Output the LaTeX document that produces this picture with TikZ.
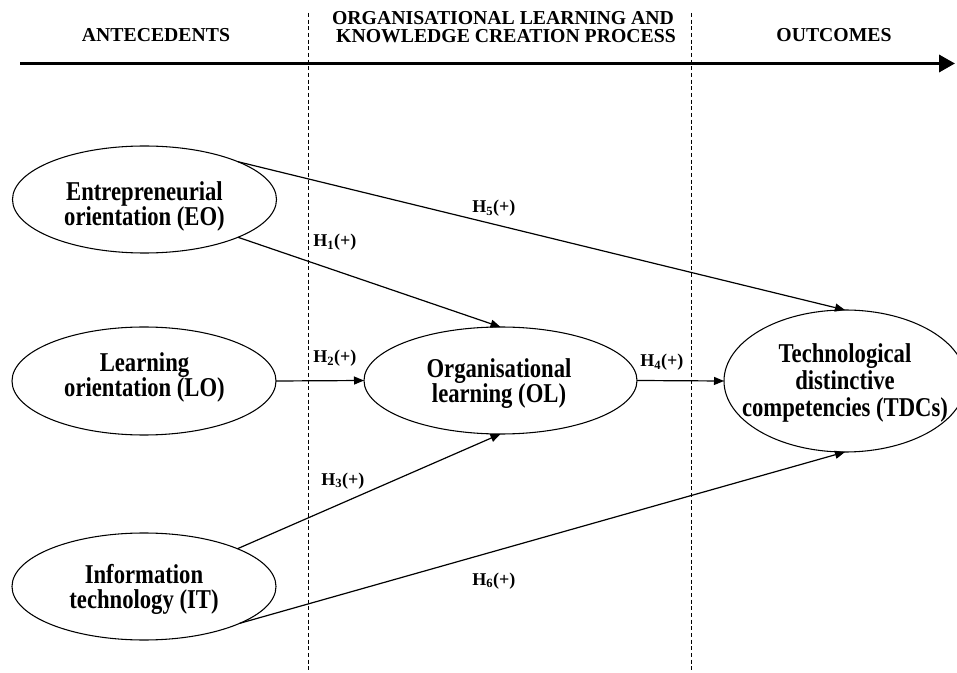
\documentclass[tikz,border=0pt]{standalone}
\usepackage{fontspec}
\setmainfont{Liberation Serif}
\usetikzlibrary{shapes.geometric,arrows.meta}
\newcommand\vstr[1]{\scalebox{1}[1.2]{#1}}
\begin{document}
\begin{tikzpicture}[x=0.75pt,y=-0.75pt,
  ell/.style={draw, ellipse, line width=0.8pt, inner sep=0pt, outer sep=0pt},
  etxt/.style={font=\fontsize{17}{17}\selectfont\bfseries, inner sep=0pt, anchor=base},
  htxt/.style={font=\fontsize{14.8}{15}\selectfont\bfseries, inner sep=0pt, anchor=base},
  hyp/.style={font=\fontsize{13.5}{14}\selectfont\bfseries, inner sep=0pt, anchor=base west},
  link/.style={line width=0.9pt, -{Triangle[length=7.5pt,width=6pt]}},
  divider/.style={line width=0.7pt, dash pattern=on 3pt off 2pt},
  timeline/.style={line width=2.6pt, -{Triangle[length=12pt,width=12.75pt]}},
]
\useasboundingbox (0,0) rectangle (957,673);

% header
\node[htxt] (hA) at (156,42) {ANTECEDENTS};
\node[htxt] (hB1) at (503,24.5) {ORGANISATIONAL LEARNING AND};
\node[htxt] (hB2) at (506,42.5) {KNOWLEDGE CREATION PROCESS};
\node[htxt] (hC) at (834,42) {OUTCOMES};
\coordinate (tl0) at (20,63.5);
\coordinate (tl1) at (955,63.5);
\draw[timeline] (tl0) -- (tl1);

% dividers
\coordinate (d1t) at (308,13);
\coordinate (d1b) at (308,673);
\coordinate (d2t) at (691,13);
\coordinate (d2b) at (691,673);
\draw[divider] (d1t) -- (d1b);
\draw[divider] (d2t) -- (d2b);

% ellipses
\node[ell, minimum width=198pt, minimum height=80.25pt] (EO) at (144.5,199.5) {};
\node[ell, minimum width=198pt, minimum height=81pt] (LO) at (144,381) {};
\node[ell, minimum width=198pt, minimum height=80.25pt] (IT) at (144,586.5) {};
\node[ell, minimum width=204.75pt, minimum height=80.25pt] (OL) at (500.5,380.5) {};
\node[ell, minimum width=181.5pt, minimum height=106.5pt] (TDC) at (845,381) {};

% ellipse texts
\node[etxt] (EOa) at (144.5,201) {\vstr{Entrepreneurial}};
\node[etxt] (EOb) at (144.5,226) {\vstr{orientation (EO)}};
\node[etxt] (LOa) at (144.5,372) {\vstr{Learning}};
\node[etxt] (LOb) at (144.5,397) {\vstr{orientation (LO)}};
\node[etxt] (ITa) at (144,583) {\vstr{Information}};
\node[etxt] (ITb) at (144,608) {\vstr{technology (IT)}};
\node[etxt] (OLa) at (499,378) {\vstr{Organisational}};
\node[etxt] (OLb) at (499,403) {\vstr{learning (OL)}};
\node[etxt] (TDa) at (845,363) {\vstr{Technological}};
\node[etxt] (TDb) at (845,390) {\vstr{distinctive}};
\node[etxt] (TDc) at (845,417) {\vstr{competencies (TDCs)}};

% connectors
\draw[link] (EO.22) -- (TDC.north);
\draw[link] (EO.-22) -- (OL.north);
\draw[link] (LO.east) -- (OL.west);
\draw[link] (OL.east) -- (TDC.west);
\draw[link] (IT.22) -- (OL.south);
\draw[link] (IT.-21) -- (TDC.south);

% hypothesis labels
\node[hyp] (h5) at (472,212.5) {H\textsubscript{5}(+)};
\node[hyp] (h1) at (313,246.5) {H\textsubscript{1}(+)};
\node[hyp] (h2) at (313,363) {H\textsubscript{2}(+)};
\node[hyp] (h4) at (640,367) {H\textsubscript{4}(+)};
\node[hyp] (h3) at (321,485) {H\textsubscript{3}(+)};
\node[hyp] (h6) at (472,585) {H\textsubscript{6}(+)};
\end{tikzpicture}
\end{document}
